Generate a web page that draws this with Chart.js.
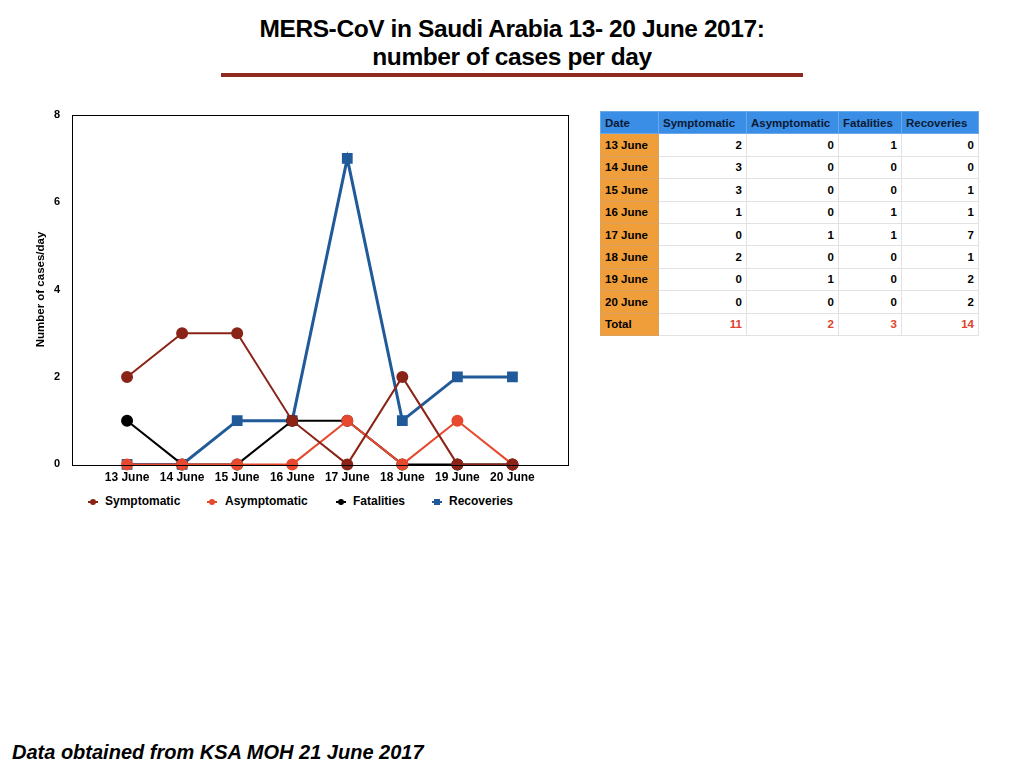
<!DOCTYPE html>
<html>
<head>
<meta charset="utf-8">
<script src="https://cdn.jsdelivr.net/npm/chart.js@4"></script>
<style>
  html, body { margin:0; padding:0; background:#fff; width:1024px; height:768px; overflow:hidden; font-family:"Liberation Sans", Arial, sans-serif; }
  #title { position:absolute; left:0; width:1024px; top:15px; text-align:center; font-weight:bold; font-size:24.5px; line-height:28px; color:#000; letter-spacing:-0.4px; }
  #rule { position:absolute; left:221px; top:73px; width:582px; height:4px; background:#8e2a1f; }
  #wrap { position:absolute; left:34px; top:96px; width:542px; height:387px; }
  #legend { position:absolute; top:494px; left:0; height:16px; font-size:12px; font-weight:bold; }
  .li { position:absolute; top:0; white-space:nowrap; }
  .mk { position:absolute; top:7px; width:10px; height:2px; }
  .dot { position:absolute; top:-2px; left:2px; width:6px; height:6px; border-radius:3px; }
  .sq { border-radius:0; }
  #tbl { position:absolute; left:600px; top:111px; border-collapse:collapse; font-size:11.5px; font-weight:bold; }
  #tbl td, #tbl th { height:21.4px; padding:0 4px; border:1px solid #e2e2e2; }
  #tbl th { background:#3a8ee6; color:#0b1a33; text-align:left; font-weight:bold; border-color:#6aa8ea; }
  #tbl td.d { background:#f09e3a; color:#000; text-align:left; border-color:#d9a060; }
  #tbl td.n { text-align:right; color:#000; }
  #tbl tr.tot td.n { color:#e0432a; }
  #foot { position:absolute; left:12px; top:741px; font-size:20px; font-weight:bold; font-style:italic; color:#000; }
</style>
</head>
<body>
<div id="title">MERS-CoV in Saudi Arabia 13- 20 June 2017:<br>number of cases per day</div>
<div id="rule"></div>
<div id="wrap"><canvas id="c"></canvas></div>
<div id="legend"></div>
<table id="tbl"></table>
<div id="foot">Data obtained from KSA MOH 21 June 2017</div>
<script>
const categories = ['13 June','14 June','15 June','16 June','17 June','18 June','19 June','20 June'];
const symptomatic  = [2,3,3,1,0,2,0,0];
const asymptomatic = [0,0,0,0,1,0,1,0];
const fatalities   = [1,0,0,1,1,0,0,0];
const recoveries   = [0,0,1,1,7,1,2,2];
const yTicks = [0,2,4,6,8];
const seriesNames = ['Symptomatic','Asymptomatic','Fatalities','Recoveries'];
const totals = ['11','2','3','14'];

const colors = ['#8a2417','#e6492d','#000000','#215a99'];
const seriesData = [symptomatic, asymptomatic, fatalities, recoveries];

const toXY = arr => arr.map((v,i)=>({x:i, y:v}));

const boxPlugin = {
  id:'box',
  afterDraw(chart){
    const {ctx, chartArea:a} = chart;
    ctx.save();
    ctx.strokeStyle='#000'; ctx.lineWidth=1;
    ctx.strokeRect(Math.round(a.left)+0.5, Math.round(a.top)+0.5, Math.round(a.right-a.left), Math.round(a.bottom-a.top));
    ctx.restore();
  }
};

new Chart(document.getElementById('c'), {
  type:'line',
  data:{
    datasets: seriesNames.map((n,k)=>({
      label:n,
      data:toXY(seriesData[k]),
      borderColor:colors[k],
      backgroundColor:colors[k],
      borderWidth: k===3 ? 3 : 2,
      pointStyle: k===3 ? 'rect' : 'circle',
      pointRadius: k===3 ? 5.5 : 5,
      pointHoverRadius: 5,
      tension:0,
      clip:false
    }))
  },
  options:{
    responsive:true, maintainAspectRatio:false, animation:false,
    layout:{padding:{top:10,right:5,left:0,bottom:0}},
    plugins:{legend:{display:false}, tooltip:{enabled:false}},
    scales:{
      x:{ type:'linear', min:-1, max:8,
          grid:{display:false}, border:{display:false},
          afterBuildTicks(ax){ ax.ticks = categories.map((c,i)=>({value:i})); },
          ticks:{ autoSkip:false, maxRotation:0, padding:-2, color:'#000',
                  font:{family:'Liberation Sans', size:12, weight:'bold'},
                  callback:(v)=>categories[v] ?? '' } },
      y:{ min:0, max:8,
          grid:{display:false, drawTicks:false}, border:{display:false},
          afterBuildTicks(ax){ ax.ticks = yTicks.map(v=>({value:v})); },
          afterFit(ax){ ax.width = 38; },
          ticks:{ padding:12, color:'#000', font:{family:'Liberation Sans', size:11, weight:'bold'} },
          title:{ display:true, text:'Number of cases/day', color:'#000', padding:{top:0,bottom:0},
                  font:{family:'Liberation Sans', size:11.5, weight:'bold'} } }
    }
  },
  plugins:[boxPlugin]
});

// legend
const legendPos = [{m:88,t:105},{m:207,t:225},{m:336,t:353},{m:432,t:449}];
const lg = document.getElementById('legend');
seriesNames.forEach((n,k)=>{
  const mk = document.createElement('div');
  mk.className='mk'; mk.style.left=legendPos[k].m+'px'; mk.style.background=colors[k];
  const d = document.createElement('div'); d.className='dot'+(k===3?' sq':''); d.style.background=colors[k];
  mk.appendChild(d); lg.appendChild(mk);
  const t = document.createElement('div'); t.className='li'; t.style.left=legendPos[k].t+'px'; t.textContent=n;
  lg.appendChild(t);
});

// table
const tbl = document.getElementById('tbl');
const colW = [58,88,92,63,77];
let h = '<tr><th style="width:'+(colW[0]-9)+'px">Date</th>'+seriesNames.map((n,k)=>'<th style="width:'+(colW[k+1]-9)+'px">'+n+'</th>').join('')+'</tr>';
categories.forEach((c,i)=>{
  h += '<tr><td class="d">'+c+'</td>'+seriesData.map(s=>'<td class="n">'+s[i]+'</td>').join('')+'</tr>';
});
h += '<tr class="tot"><td class="d">Total</td>'+totals.map(t=>'<td class="n">'+t+'</td>').join('')+'</tr>';
tbl.innerHTML = h;
</script>
</body>
</html>
